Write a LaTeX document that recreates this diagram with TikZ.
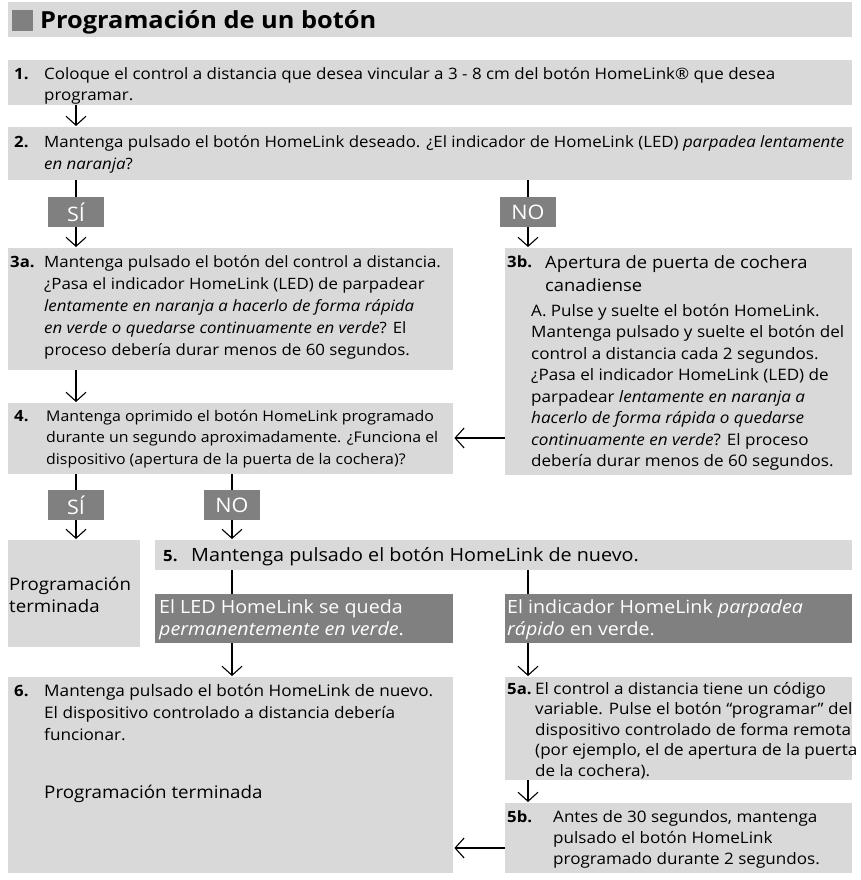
\documentclass[tikz,border=0pt]{standalone}
\usepackage{fontspec}
\setmainfont{Open Sans}[FakeStretch=1.08]
\usetikzlibrary{arrows.meta}
\definecolor{lightbox}{HTML}{D9D9D9}
\definecolor{darkbox}{HTML}{808080}
\newcommand\fsz[2]{\fontsize{#1}{#2}\selectfont}
\tikzset{
  box/.style={fill=lightbox, draw=none, inner sep=0, anchor=north west},
  darkrect/.style={fill=darkbox, draw=none, inner sep=0, anchor=north west},
  txt/.style={inner sep=0, anchor=base west, align=left},
  wtxt/.style={txt, text=white},
  num/.style={inner sep=0, anchor=base west, font=\bfseries\fsz{15.5}{20}},
  lab/.style={fill=darkbox, text=white, inner sep=0, minimum width=56pt, minimum height=30pt, font=\fsz{20}{24}},
  ln/.style={line width=1.5pt, draw=black},
  arr/.style={line width=1.5pt, draw=black, -{Straight Barb[length=9pt,width=20pt,line width=1.1pt]}, shorten >=1pt}
}
\begin{document}
\begin{tikzpicture}[x=1pt,y=-1pt]
\useasboundingbox (0,0) rectangle (860,880);
% title
\node[box, minimum width=844pt, minimum height=35pt] (tbar) at (8,2) {};
\node[darkrect, minimum width=21pt, minimum height=21pt] (tsq) at (12,10) {};
\node[inner sep=0, anchor=base west, font=\bfseries\fsz{23.5}{28}] (title) at (40,29) {Programación de un botón};
% coordinates for connector columns
\coordinate (cA) at (76,0);
\coordinate (cB) at (232,0);
\coordinate (cC) at (528,0);
\coordinate (r1) at (0,438);
\coordinate (r2) at (0,848);
% box 1
\node[box, minimum width=844pt, minimum height=45pt] (b1) at (8,60) {};
\node[num] (n1) at (14,80) {1.};
\node[txt, font=\fsz{15.7}{21}] (t1) at (44,101) {Coloque el control a distancia que desea vincular a 3 - 8 cm del botón HomeLink® que desea\\programar.};
% box 2
\node[box, minimum width=844pt, minimum height=53pt] (b2) at (8,127) {};
\node[num] (n2) at (14,147) {2.};
\node[txt, font=\fsz{15.6}{22}] (t2) at (44,169) {Mantenga pulsado el botón HomeLink deseado. ¿El indicador de HomeLink (LED) \textit{parpadea lentamente}\\\textit{en naranja}?};
% labels SI / NO
\node[lab] (si1) at (76,212) {SÍ};
\node[lab] (no1) at (528,212) {NO};
% box 3a
\node[box, minimum width=445pt, minimum height=122pt] (b3a) at (8,248) {};
\node[num] (n3a) at (10,267) {3a.};
\node[txt, font=\fsz{15.6}{22}] (t3a) at (44,355) {Mantenga pulsado el botón del control a distancia.\\¿Pasa el indicador HomeLink (LED) de parpadear\\\textit{lentamente en naranja a hacerlo de forma rápida}\\\textit{en verde o quedarse continuamente en verde}? El\\proceso debería durar menos de 60 segundos.};
% box 3b
\node[box, minimum width=347pt, minimum height=227pt] (b3b) at (505,248) {};
\node[num] (n3b) at (507,267) {3b.};
\node[txt, font=\fsz{17}{23}] (t3bh) at (545,291) {Apertura de puerta de cochera\\canadiense};
\node[txt, font=\fsz{15.8}{21.5}] (t3b) at (531,466.5) {A. Pulse y suelte el botón HomeLink.\\Mantenga pulsado y suelte el botón del\\control a distancia cada 2 segundos.\\¿Pasa el indicador HomeLink (LED) de\\parpadear \textit{lentamente en naranja a}\\\textit{hacerlo de forma rápida o quedarse}\\\textit{continuamente en verde}? El proceso\\debería durar menos de 60 segundos.};
% box 4
\node[box, minimum width=445pt, minimum height=71pt] (b4) at (8,403) {};
\node[num] (n4) at (14,421) {4.};
\node[txt, font=\fsz{14.7}{21.5}] (t4) at (46,464) {Mantenga oprimido el botón HomeLink programado\\durante un segundo aproximadamente. ¿Funciona el\\dispositivo (apertura de la puerta de la cochera)?};
% labels
\node[lab] (si2) at (76,505) {SÍ};
\node[lab] (no2) at (232,505) {NO};
% done box
\node[box, minimum width=132pt, minimum height=107pt] (bdone) at (8,540) {};
\node[txt, font=\fsz{17.3}{22}] (tdone) at (9,612) {Programación\\terminada};
% box 5
\node[box, minimum width=697pt, minimum height=30pt] (b5) at (155,540) {};
\node[num] (n5) at (163,561) {5.};
\node[txt, font=\fsz{18.3}{22}] (t5) at (191,561) {Mantenga pulsado el botón HomeLink de nuevo.};
% dark labels
\node[darkrect, minimum width=298pt, minimum height=49pt] (d1) at (155,594) {};
\node[wtxt, font=\fsz{18.2}{22}] (td1) at (159,635) {El LED HomeLink se queda\\\textit{permanentemente en verde}.};
\node[darkrect, minimum width=347pt, minimum height=49pt] (d2) at (505,594) {};
\node[wtxt, font=\fsz{18.2}{22}] (td2) at (507,635) {El indicador HomeLink \textit{parpadea}\\\textit{rápido} en verde.};
% box 6
\node[box, minimum width=445pt, minimum height=196pt] (b6) at (8,677) {};
\node[num] (n6) at (14,696) {6.};
\node[txt, font=\fsz{15.9}{22}] (t6) at (44,740) {Mantenga pulsado el botón HomeLink de nuevo.\\El dispositivo controlado a distancia debería\\funcionar.};
\node[txt, font=\fsz{17.4}{22}] (t6b) at (44,798) {Programación terminada};
% box 5a
\node[box, minimum width=347pt, minimum height=103pt] (b5a) at (505,677) {};
\node[num] (n5a) at (507,694) {5a.};
\node[txt, font=\fsz{15.8}{20.5}] (t5a) at (535,776) {El control a distancia tiene un código\\variable. Pulse el botón “programar” del\\dispositivo controlado de forma remota\\(por ejemplo, el de apertura de la puerta\\de la cochera).};
% box 5b
\node[box, minimum width=347pt, minimum height=70pt] (b5b) at (505,803) {};
\node[num] (n5b) at (507,822) {5b.};
\node[txt, font=\fsz{15.8}{21}] (t5b) at (553,864) {Antes de 30 segundos, mantenga\\pulsado el botón HomeLink\\programado durante 2 segundos.};
% connectors
\draw[arr] (b1.south -| cA) -- (b2.north -| cA);
\draw[ln] (b2.south -| si1) -- (si1.north);
\draw[arr] (si1.south) -- (b3a.north -| si1);
\draw[ln] (b2.south -| no1) -- (no1.north);
\draw[arr] (no1.south) -- (b3b.north -| no1);
\draw[arr] (b3a.south -| cA) -- (b4.north -| cA);
\draw[arr] (b3b.west |- r1) -- (b4.east |- r1);
\draw[ln] (b4.south -| si2) -- (si2.north);
\draw[arr] (si2.south) -- (bdone.north -| si2);
\draw[ln] (b4.south -| no2) -- (no2.north);
\draw[arr] (no2.south) -- (b5.north -| no2);
\draw[ln] (b5.south -| cB) -- (d1.north -| cB);
\draw[ln] (b5.south -| cC) -- (d2.north -| cC);
\draw[arr] (d1.south -| cB) -- (b6.north -| cB);
\draw[arr] (d2.south -| cC) -- (b5a.north -| cC);
\draw[arr] (b5a.south -| cC) -- (b5b.north -| cC);
\draw[arr] (b5b.west |- r2) -- (b6.east |- r2);
\end{tikzpicture}
\end{document}
